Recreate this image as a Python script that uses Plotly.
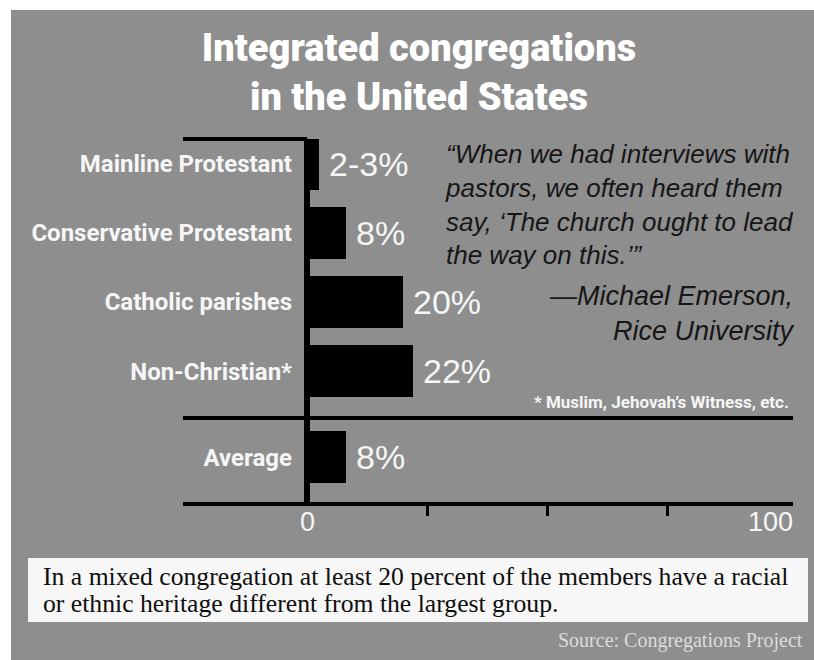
import plotly.graph_objects as go

# ---------------- data ----------------
categories = ["Mainline Protestant", "Conservative Protestant", "Catholic parishes", "Non-Christian*"]
values = [2.5, 8, 20, 22]
value_labels = ["2-3%", "8%", "20%", "22%"]
avg_category = ["Average"]
avg_values = [8]
avg_labels = ["8%"]
x_label_values = [0, 100]
x_label_text = ["0", "100"]
x_minor_ticks = [25, 50, 75]

title_text = "Integrated congregations<br>in the United States"
quote_lines = ["\u201cWhen we had interviews with",
               "pastors, we often heard them",
               "say, \u2018The church ought to lead",
               "the way on this.\u2019\u201d"]
attribution_lines = ["\u2014Michael Emerson,", "Rice University"]
footnote = "* Muslim, Jehovah\u2019s Witness, etc."
caption_lines = ["In a mixed congregation at least 20 percent of the members have a racial",
                 "or ethnic heritage different from the largest group."]
source_text = "Source: Congregations Project"

# ---------------- layout helpers ----------------
W, H = 814, 660


def px(x):
    return x / W


def py(y):
    return 1 - y / H


X_RANGE = [-25.8, 101]
PANEL = "#8e8e8e"
WHITE = "#f6f6f6"
COND = "Roboto, Arial, sans-serif"
SANS = "Liberation Sans, Arial, sans-serif"
SERIF = "Liberation Serif, Times New Roman, serif"

fig = go.Figure()

fig.add_trace(go.Bar(y=categories, x=values, orientation="h", width=0.75,
                     marker=dict(color="black", line=dict(width=0)),
                     xaxis="x", yaxis="y", hoverinfo="skip", showlegend=False))
fig.add_trace(go.Bar(y=avg_category, x=avg_values, orientation="h", width=0.6,
                     marker=dict(color="black", line=dict(width=0)),
                     xaxis="x2", yaxis="y2", hoverinfo="skip", showlegend=False))

annotations = []
for c, v, lab in zip(categories, values, value_labels):
    annotations.append(dict(x=v, y=c, xref="x", yref="y", text=lab, showarrow=False,
                            xanchor="left", xshift=8,
                            font=dict(family=SANS, size=34, color=WHITE)))
for c, v, lab in zip(avg_category, avg_values, avg_labels):
    annotations.append(dict(x=v, y=c, xref="x2", yref="y2", text=lab, showarrow=False,
                            xanchor="left", xshift=8,
                            font=dict(family=SANS, size=34, color=WHITE)))

# x-axis end labels (0 centred on the zero line, 100 right-aligned at the axis end)
for v, lab in zip(x_label_values, x_label_text):
    is_end = v == x_label_values[-1]
    annotations.append(dict(x=v, y=py(522), xref="x2", yref="paper", text=lab, showarrow=False,
                            xanchor="right" if is_end else "center",
                            xshift=7 if is_end else 0, yanchor="middle",
                            font=dict(family=SANS, size=27, color=WHITE)))

# quote
annotations.append(dict(x=px(443), y=py(205), xref="paper", yref="paper",
                        text="<i>" + "<br>".join(quote_lines) + "</i>", showarrow=False,
                        xanchor="left", yanchor="middle", align="left",
                        font=dict(family=SANS, size=26, color="#161616")))
annotations.append(dict(x=px(797), y=py(313), xref="paper", yref="paper",
                        text="<i>" + "<br>".join(attribution_lines) + "</i>", showarrow=False,
                        xanchor="right", yanchor="middle", align="right",
                        font=dict(family=SANS, size=27, color="#161616")))
# footnote
annotations.append(dict(x=px(791), y=py(402), xref="paper", yref="paper", text=footnote,
                        showarrow=False, xanchor="right", yanchor="middle",
                        font=dict(family="Roboto, Arial, sans-serif", size=17, color=WHITE, weight="bold")))
# caption
for i, line in enumerate(caption_lines):
    annotations.append(dict(x=px(41), y=py(576 + 27 * i), xref="paper", yref="paper", text=line,
                            showarrow=False, xanchor="left", yanchor="middle",
                            font=dict(family=SERIF, size=25.7, color="#0e0e0e")))
# source
annotations.append(dict(x=px(805), y=py(640), xref="paper", yref="paper", text=source_text,
                        showarrow=False, xanchor="right", yanchor="middle",
                        font=dict(family=SERIF, size=20, color="#dcdcdc")))

shapes = [
    dict(type="rect", xref="paper", yref="paper", x0=px(11), x1=1, y0=0, y1=py(10),
         fillcolor=PANEL, line=dict(width=0), layer="below"),
    dict(type="rect", xref="paper", yref="paper", x0=px(28), x1=px(808), y0=py(622), y1=py(558),
         fillcolor="#f7f7f7", line=dict(width=0), layer="below"),
    dict(type="line", xref="x", yref="paper", x0=X_RANGE[0], x1=0, y0=py(139), y1=py(139),
         line=dict(color="black", width=4)),
]

xdom = [px(183), px(793)]
common_x = dict(domain=xdom, range=X_RANGE, showgrid=False, zeroline=True,
                zerolinecolor="black", zerolinewidth=6, showline=True, linecolor="black",
                linewidth=4, fixedrange=True)

fig.update_layout(
    width=W, height=H,
    margin=dict(l=0, r=0, t=0, b=0),
    paper_bgcolor="white", plot_bgcolor="rgba(0,0,0,0)",
    bargap=0,
    title=dict(text=title_text, x=px(419), xanchor="center", y=py(61), yanchor="middle",
               xref="paper", yref="container",
               font=dict(family=COND, size=38, color="white", weight=900)),
    xaxis=dict(**common_x, anchor="y", showticklabels=False, ticks=""),
    xaxis2=dict(**common_x, anchor="y2", showticklabels=False, ticks="",
                minor=dict(tickvals=x_minor_ticks, ticks="outside", ticklen=10, tickwidth=3,
                           tickcolor="black", showgrid=False)),
    yaxis=dict(domain=[py(416), py(139)], type="category", categoryorder="array",
               categoryarray=categories, range=[3.65, -0.36], anchor="free", position=px(292),
               showgrid=False, zeroline=False, showline=False, ticks="",
               tickfont=dict(family=COND, size=24, color=WHITE, weight="bold"), fixedrange=True),
    yaxis2=dict(domain=[py(502), py(416)], type="category", categoryorder="array",
                categoryarray=avg_category, range=[0.52, -0.48], anchor="free", position=px(292),
                showgrid=False, zeroline=False, showline=False, ticks="",
                tickfont=dict(family=COND, size=24, color=WHITE, weight="bold"), fixedrange=True),
    annotations=annotations,
    shapes=shapes,
)

fig.write_html("out.html")
